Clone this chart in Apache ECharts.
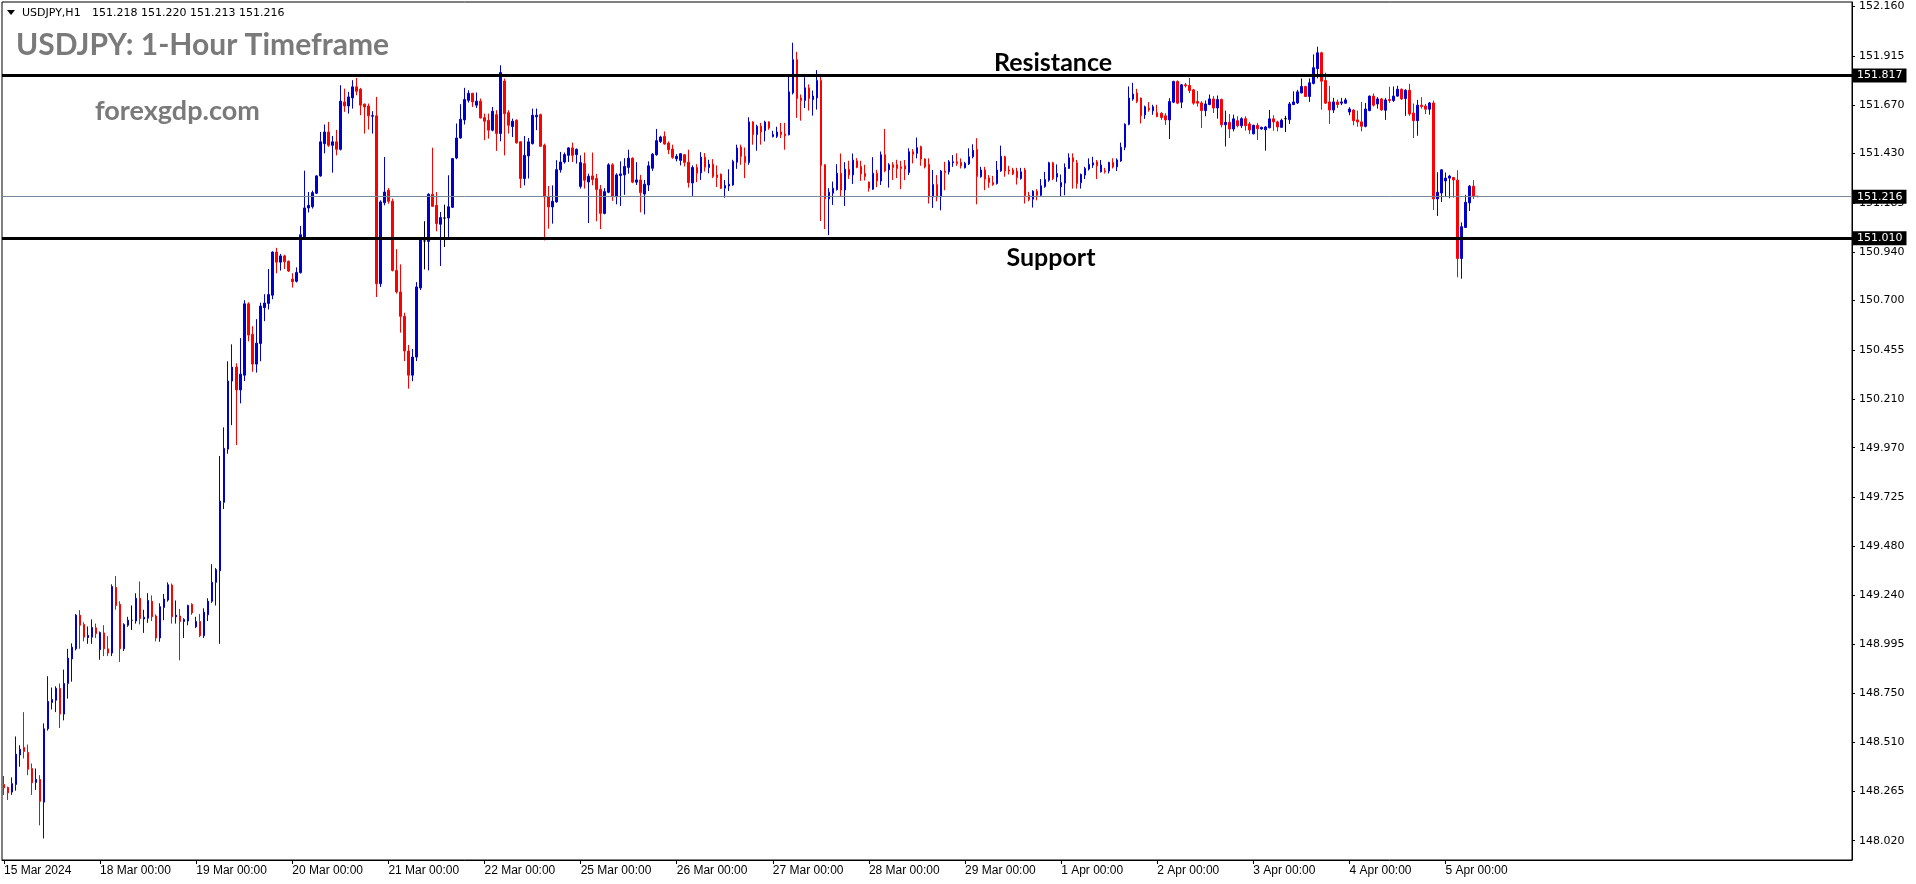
<!DOCTYPE html>
<html>
<head>
<meta charset="utf-8">
<script src="https://cdn.jsdelivr.net/npm/echarts@6/dist/echarts.min.js"></script>
<style>html,body{margin:0;padding:0;background:#fff;}#chart{width:1916px;height:884px;}</style>
</head>
<body>
<div id="chart"></div>
<script>
// ---- data ----
const tradingDays = ['15 Mar','18 Mar','19 Mar','20 Mar','21 Mar','22 Mar','25 Mar','26 Mar','27 Mar','28 Mar','29 Mar',
  '1 Apr','2 Apr','3 Apr','4 Apr','5 Apr','8 Apr','9 Apr','10 Apr','11 Apr'];
const xTickLabels = ['15 Mar 2024','18 Mar 00:00','19 Mar 00:00','20 Mar 00:00','21 Mar 00:00','22 Mar 00:00','25 Mar 00:00',
  '26 Mar 00:00','27 Mar 00:00','28 Mar 00:00','29 Mar 00:00','1 Apr 00:00','2 Apr 00:00','3 Apr 00:00','4 Apr 00:00','5 Apr 00:00'];
const yTickValues = [148.020,148.265,148.510,148.750,148.995,149.240,149.480,149.725,149.970,150.210,150.455,150.700,150.940,151.185,151.430,151.670,151.915,152.160];
const resistanceLevel = 151.817;
const supportLevel = 151.010;
const lastPrice = 151.216;
const headerSymbol = 'USDJPY,H1';
const headerQuote = '151.218 151.220 151.213 151.216';
// hourly candles: [open, close, low, high]
const candles = [
// 15 Mar
[148.299,148.282,148.247,148.341],[148.284,148.257,148.222,148.288],[148.261,148.303,148.247,148.334],[148.299,148.449,148.268,148.537],
[148.445,148.474,148.387,148.493],[148.483,148.462,148.428,148.658],[148.458,148.374,148.345,148.497],[148.378,148.307,148.247,148.403],
[148.309,148.324,148.272,148.378],[148.324,148.215,148.096,148.345],[148.211,148.575,148.031,148.602],[148.575,148.711,148.566,148.836],
[148.706,148.721,148.671,148.780],[148.717,148.776,148.658,148.786],[148.776,148.648,148.579,148.800],[148.648,148.800,148.617,148.869],
[148.800,148.926,148.725,148.972],[148.922,148.980,148.809,148.999],[148.972,149.139,148.964,149.145],[149.139,149.089,148.972,149.164],
[149.093,149.030,149.009,149.104],[149.028,149.039,148.997,149.083],[149.030,149.078,148.997,149.118],[149.076,149.047,149.026,149.097],
// 18 Mar
[148.968,149.053,148.918,149.058],[149.051,148.972,148.936,149.089],[148.972,148.951,148.936,149.035],[148.951,149.281,148.936,149.292],
[149.277,149.187,149.166,149.333],[149.193,148.972,148.907,149.208],[148.972,149.093,148.961,149.099],[149.089,149.114,149.081,149.131],
[149.114,149.114,149.066,149.187],[149.110,149.223,149.097,149.248],[149.223,149.122,149.093,149.306],[149.120,149.129,149.051,149.166],
[149.124,149.212,149.101,149.248],[149.208,149.131,149.110,149.237],[149.135,149.026,149.009,149.143],[149.026,149.181,149.007,149.198],
[149.177,149.219,149.114,149.244],[149.214,149.290,149.206,149.302],[149.288,149.131,149.097,149.296],[149.131,149.139,149.097,149.212],
[149.135,149.108,148.915,149.170],[149.108,149.118,149.026,149.124],[149.110,149.187,149.089,149.191],[149.193,149.150,149.141,149.198],
// 19 Mar
[149.081,149.108,149.075,149.131],[149.108,149.037,149.030,149.145],[149.037,149.154,149.026,149.173],[149.141,149.208,149.110,149.223],
[149.208,149.302,149.200,149.392],[149.302,149.365,149.187,149.373],[149.359,149.705,148.997,149.929],[149.699,149.967,149.666,150.071],
[149.963,150.301,149.940,150.399],[150.301,150.370,150.082,150.483],[150.370,150.257,149.983,150.389],[150.257,150.335,150.190,150.514],
[150.330,150.684,150.301,150.702],[150.684,150.529,150.498,150.692],[150.533,150.385,150.347,150.573],[150.385,150.489,150.343,150.608],
[150.487,150.673,150.399,150.690],[150.665,150.688,150.598,150.732],[150.686,150.730,150.656,150.857],[150.727,150.941,150.707,150.945],
[150.941,150.891,150.836,150.962],[150.891,150.922,150.849,150.932],[150.922,150.893,150.857,150.928],[150.895,150.847,150.842,150.899],
// 20 Mar
[150.807,150.794,150.765,150.836],[150.796,150.840,150.790,150.865],[150.839,151.027,150.834,151.070],[151.016,151.160,151.008,151.345],
[151.160,151.173,151.137,151.239],[151.166,151.236,151.157,151.246],[151.233,151.319,151.229,151.322],[151.319,151.488,151.315,151.537],
[151.479,151.537,151.431,151.574],[151.537,151.471,151.463,151.587],[151.471,151.488,151.335,151.517],[151.488,151.451,151.421,151.547],
[151.451,151.690,151.445,151.769],[151.686,151.666,151.637,151.752],[151.666,151.711,151.628,151.736],[151.706,151.761,151.653,151.794],
[151.761,151.739,151.719,151.805],[151.749,151.670,151.620,151.756],[151.675,151.661,151.529,151.678],[151.666,151.617,151.549,151.678],
[151.615,151.618,151.529,151.640],[151.617,150.784,150.718,151.711],[150.784,151.190,150.768,151.198],[151.186,151.239,151.173,151.413],
// 21 Mar
[151.248,151.193,151.181,151.259],[151.193,150.850,150.845,151.206],[150.850,150.743,150.735,150.955],[150.743,150.622,150.541,150.880],
[150.622,150.450,150.400,150.640],[150.450,150.330,150.263,150.480],[150.330,150.420,150.300,150.460],[150.420,150.768,150.400,150.792],
[150.763,151.004,150.753,151.011],[150.996,150.996,150.855,151.094],[150.994,151.228,150.850,151.233],[151.228,151.168,151.165,151.459],
[151.173,151.082,151.044,151.239],[151.079,151.112,150.872,151.140],[151.110,151.110,150.966,151.176],[151.110,151.166,151.016,151.322],
[151.163,151.405,151.160,151.408],[151.408,151.507,151.402,151.579],[151.507,151.600,151.504,151.675],[151.597,151.698,151.574,151.756],
[151.694,151.729,151.683,151.744],[151.729,151.686,151.661,151.731],[151.670,151.690,151.656,151.733],[151.690,151.607,151.603,151.703],
// 22 Mar
[151.608,151.590,151.496,151.628],[151.595,151.546,151.504,151.628],[151.546,151.640,151.540,151.661],[151.623,151.529,151.443,151.645],
[151.529,151.832,151.491,151.868],[151.790,151.628,151.421,151.802],[151.633,151.570,151.529,151.645],[151.564,151.590,151.512,151.603],
[151.595,151.483,151.479,151.600],[151.488,151.306,151.259,151.491],[151.306,151.421,151.272,151.517],[151.418,151.488,151.306,151.507],
[151.479,151.620,151.475,151.653],[151.612,151.620,151.546,151.653],[151.623,151.466,151.463,151.628],[151.471,151.215,150.999,151.479],
[151.215,151.165,151.057,151.269],[151.165,151.193,151.082,151.272],[151.190,151.350,151.186,151.397],[151.349,151.388,151.335,151.438],
[151.388,151.425,151.380,151.435],[151.421,151.458,151.388,151.461],[151.458,151.421,151.388,151.484],[151.425,151.451,151.380,151.455],
// 25 Mar
[151.267,151.385,151.256,151.421],[151.380,151.297,151.256,151.435],[151.289,151.317,151.085,151.330],[151.319,151.301,151.272,151.435],
[151.306,151.251,151.094,151.329],[151.253,151.133,151.055,151.274],[151.133,151.241,151.128,151.258],[151.238,151.374,151.233,151.382],
[151.374,151.216,151.195,151.382],[151.216,151.324,151.178,151.332],[151.321,151.329,151.170,151.391],[151.324,151.366,151.225,151.407],
[151.361,151.407,151.330,151.449],[151.407,151.288,151.283,151.411],[151.288,151.299,151.274,151.387],[151.299,151.236,151.138,151.324],
[151.229,151.278,151.128,151.299],[151.274,151.369,151.244,151.391],[151.357,151.427,151.344,151.432],[151.424,151.494,151.419,151.552],
[151.490,151.512,151.482,151.518],[151.515,151.477,151.474,151.540],[151.482,151.449,151.427,151.490],[151.452,151.411,151.404,151.474],
// 26 Mar
[151.404,151.416,151.391,151.427],[151.396,151.429,151.371,151.432],[151.424,151.386,151.366,151.427],[151.387,151.286,151.261,151.449],
[151.284,151.361,151.220,151.371],[151.361,151.332,151.288,151.377],[151.334,151.412,151.299,151.437],[151.412,151.362,151.341,151.432],
[151.361,151.377,151.332,151.399],[151.377,151.316,151.308,151.402],[151.324,151.311,151.264,151.371],[151.327,151.258,151.254,151.331],
[151.258,151.271,151.211,151.299],[151.269,151.278,151.244,151.352],[151.274,151.391,151.270,151.399],[151.387,151.457,151.354,151.474],
[151.462,151.416,151.374,151.474],[151.416,151.386,151.308,151.460],[151.386,151.587,151.374,151.610],[151.587,151.524,151.474,151.590],
[151.524,151.565,151.444,151.573],[151.565,151.537,151.474,151.582],[151.543,151.587,151.490,151.593],[151.587,151.557,151.548,151.590],
// 27 Mar
[151.514,151.524,151.510,151.543],[151.515,151.537,151.507,151.563],[151.537,151.524,151.507,151.582],[151.527,151.518,151.449,151.582],
[151.523,151.736,151.520,151.814],[151.731,151.896,151.723,151.980],[151.896,151.703,151.607,151.935],[151.706,151.693,151.593,151.723],
[151.693,151.756,151.656,151.809],[151.756,151.703,151.643,151.773],[151.698,151.715,151.618,151.743],[151.706,151.793,151.648,151.844],
[151.793,151.371,151.095,151.814],[151.374,151.205,151.055,151.377],[151.205,151.238,151.025,151.258],[151.233,151.258,151.175,151.291],
[151.251,151.332,151.246,151.377],[151.332,151.249,151.216,151.430],[151.249,151.352,151.170,151.387],[151.352,151.324,151.304,151.394],
[151.324,151.397,151.279,151.430],[151.394,151.361,151.357,151.407],[151.366,151.329,151.294,151.394],[151.332,151.316,151.296,151.374],
// 28 Mar
[151.288,151.258,151.241,151.291],[151.253,151.332,151.250,151.412],[151.332,151.294,151.263,151.349],[151.294,151.424,151.274,151.440],
[151.424,151.344,151.337,151.552],[151.349,151.374,151.261,151.382],[151.374,151.361,151.299,151.387],[151.375,151.356,151.308,151.399],
[151.364,151.356,151.253,151.394],[151.369,151.353,151.298,151.398],[151.336,151.439,151.323,151.456],[151.439,151.426,151.381,151.452],
[151.431,151.459,151.406,151.509],[151.464,151.403,151.369,151.469],[151.403,151.364,151.356,151.406],[151.376,151.215,151.182,151.406],
[151.215,151.276,151.160,151.348],[151.276,151.215,151.193,151.323],[151.215,151.343,151.148,151.348],[151.343,151.336,151.248,151.389],
[151.339,151.389,151.326,151.398],[151.384,151.389,151.364,151.422],[151.389,151.381,151.369,151.431],[151.386,151.369,151.356,151.406],
// 29 Mar
[151.359,151.381,151.356,151.389],[151.378,151.414,151.373,151.456],[151.414,151.446,151.406,151.476],[151.451,151.316,151.178,151.506],
[151.315,151.348,151.310,151.364],[151.348,151.303,151.248,151.364],[151.309,151.286,151.260,151.323],[151.286,151.276,151.270,151.319],
[151.281,151.348,151.276,151.393],[151.344,151.416,151.339,151.469],[151.414,151.343,151.315,151.419],[151.348,151.343,151.326,151.369],
[151.348,151.328,151.323,151.359],[151.343,151.310,151.276,151.359],[151.306,151.339,151.300,151.359],[151.348,151.220,151.182,151.359],
[151.223,151.202,151.193,151.240],[151.203,151.243,151.162,151.248],[151.243,151.223,151.198,151.253],[151.223,151.270,151.220,151.303],
[151.266,151.301,151.260,151.339],[151.298,151.384,151.290,151.389],[151.384,151.306,151.298,151.389],[151.313,151.331,151.290,151.376],
// 1 Apr
[151.265,151.286,151.215,151.326],[151.283,151.361,151.223,151.381],[151.356,151.409,151.353,151.431],[151.409,151.389,151.256,151.431],
[151.384,151.281,151.256,151.398],[151.285,151.326,151.256,151.331],[151.323,151.356,151.303,151.364],[151.353,151.376,151.346,151.406],
[151.373,151.384,151.359,151.414],[151.389,151.369,151.303,151.398],[151.339,151.373,151.336,151.398],[151.344,151.341,151.331,151.359],
[151.343,151.386,151.331,151.389],[151.386,151.364,151.356,151.406],[151.364,151.398,151.343,151.406],[151.393,151.461,151.389,151.484],
[151.461,151.575,151.447,151.580],[151.575,151.705,151.570,151.763],[151.700,151.725,151.692,151.781],[151.730,151.688,151.680,151.751],
[151.705,151.618,151.579,151.708],[151.622,151.662,151.602,151.668],[151.655,151.647,151.638,151.685],[151.642,151.662,151.622,151.672],
// 2 Apr
[151.633,151.613,151.610,151.672],[151.630,151.609,151.597,151.635],[151.617,151.597,151.572,151.630],[151.597,151.688,151.502,151.705],
[151.685,151.788,151.680,151.791],[151.788,151.680,151.675,151.793],[151.685,151.771,151.655,151.775],[151.771,151.766,151.758,151.780],
[151.768,151.743,151.730,151.805],[151.746,151.680,151.672,151.751],[151.688,151.680,151.663,151.740],[151.681,151.643,151.557,151.690],
[151.643,151.676,151.615,151.693],[151.673,151.701,151.670,151.723],[151.701,151.656,151.631,151.715],[151.656,151.698,151.603,151.718],
[151.698,151.573,151.560,151.703],[151.573,151.585,151.465,151.643],[151.585,151.552,151.507,151.626],[151.552,151.602,151.540,151.623],
[151.593,151.568,151.560,151.615],[151.568,151.603,151.557,151.610],[151.603,151.568,151.543,151.615],[151.577,151.547,151.527,151.587],
// 3 Apr
[151.528,151.570,151.525,151.573],[151.570,151.553,151.497,151.582],[151.552,151.560,151.548,151.563],[151.548,151.562,151.444,151.565],
[151.558,151.602,151.555,151.646],[151.602,151.587,151.543,151.620],[151.587,151.562,151.540,151.593],[151.560,151.595,151.557,151.603],
[151.603,151.603,151.537,151.617],[151.598,151.676,151.577,151.686],[151.673,151.686,151.670,151.739],[151.681,151.736,151.676,151.746],
[151.731,151.763,151.728,151.803],[151.763,151.713,151.711,151.766],[151.713,151.781,151.686,151.803],[151.778,151.856,151.773,151.922],
[151.851,151.930,151.803,151.960],[151.930,151.789,151.648,151.935],[151.793,151.680,151.676,151.831],[151.686,151.646,151.577,151.766],
[151.646,151.686,151.631,151.706],[151.686,151.673,151.656,151.698],[151.680,151.686,151.670,151.706],[151.680,151.696,151.676,151.706],
// 4 Apr
[151.636,151.651,151.620,151.660],[151.646,151.593,151.570,151.650],[151.597,151.587,151.563,151.643],[151.587,151.565,151.540,151.686],
[151.565,151.651,151.560,151.681],[151.643,151.715,151.640,151.718],[151.715,151.670,151.663,151.728],[151.676,151.701,151.653,151.710],
[151.701,151.646,151.643,151.706],[151.645,151.696,151.597,151.706],[151.698,151.693,151.681,151.761],[151.693,151.715,151.686,151.763],
[151.715,151.749,151.711,151.766],[151.749,151.701,151.696,151.753],[151.703,151.744,151.617,151.749],[151.744,151.626,151.617,151.776],
[151.631,151.593,151.507,151.678],[151.593,151.670,151.518,151.696],[151.670,151.663,151.653,151.710],[151.666,151.650,151.626,151.676],
[151.650,151.681,151.623,151.686],[151.681,151.205,151.150,151.693],[151.205,151.238,151.120,151.337],[151.234,151.349,151.190,151.352],
// 5 Apr
[151.294,151.308,151.215,151.336],[151.308,151.318,151.208,151.324],[151.311,151.299,151.211,151.314],[151.298,150.909,150.816,151.347],
[150.909,151.067,150.809,151.088],[151.063,151.188,151.062,151.225],[151.185,151.268,151.145,151.274],[151.268,151.216,151.205,151.298],
[151.218,151.216,151.213,151.220]
];

// ---- build ----
const SLOTS = 462;
const categories = [];
tradingDays.forEach(d => { for (let h = 0; h < 24; h++) categories.push(d + ' ' + String(h).padStart(2, '0') + ':00'); });
categories.length = SLOTS;

const UP = '#0000cd', DOWN = '#ff0000';
const seriesData = candles.map(c => c[0] === c[1]
  ? { value: c, itemStyle: { color: '#000', color0: '#000', borderColor: '#000', borderColor0: '#000' } }
  : c);

const isDayTick = (idx) => idx % 24 === 0 && idx / 24 < xTickLabels.length;

const priceBox = (v) => ({ show: true, position: 'end', distance: 1, formatter: v.toFixed(3),
  backgroundColor: '#000', color: '#fff', fontFamily: '"DejaVu Sans", sans-serif', fontSize: 11, padding: [2, 4, 1, 4] });

const chart = echarts.init(document.getElementById('chart'), null, { renderer: 'canvas' });
const titleFont = 'Lato, "Open Sans", sans-serif';
chart.setOption({
  animation: false,
  backgroundColor: '#ffffff',
  grid: { left: 2, top: 2, width: 1850, height: 858, show: true, borderColor: '#000', borderWidth: 1,
          backgroundColor: 'transparent', containLabel: false, outerBoundsMode: 'none' },
  xAxis: {
    type: 'category', data: categories, boundaryGap: true,
    axisLine: { show: true, lineStyle: { color: '#000', width: 1 } },
    axisTick: { show: true, alignWithLabel: true, length: 4, interval: (i) => isDayTick(i), lineStyle: { color: '#000' } },
    axisLabel: { show: true, interval: (i) => isDayTick(i), hideOverlap: false, align: 'left', margin: 5,
      formatter: (v, i) => isDayTick(i) ? xTickLabels[i / 24] : '',
      fontFamily: '"Liberation Sans", Arial, sans-serif', fontSize: 12, color: '#000' },
    splitLine: { show: false }
  },
  yAxis: {
    type: 'value', position: 'right', min: 147.924, max: 152.182, scale: true,
    axisLine: { show: true, onZero: false, lineStyle: { color: '#000', width: 1 } },
    axisTick: { show: true, length: 3, customValues: yTickValues, lineStyle: { color: '#000' } },
    axisLabel: { show: true, customValues: yTickValues, margin: 7, formatter: (v) => Number(v).toFixed(3),
      fontFamily: '"DejaVu Sans", sans-serif', fontSize: 11, color: '#000' },
    splitLine: { show: false }
  },
  series: [{
    type: 'candlestick', data: seriesData, barWidth: 2, large: false, clip: true,
    itemStyle: { color: UP, color0: DOWN, borderColor: UP, borderColor0: DOWN, borderWidth: 1 },
    markLine: {
      silent: true, symbol: ['none', 'none'], animation: false, precision: 3,
      data: [
        { yAxis: lastPrice, lineStyle: { color: '#778899', width: 1, type: 'solid' }, label: priceBox(lastPrice) },
        { yAxis: resistanceLevel, lineStyle: { color: '#000', width: 3, type: 'solid' }, label: priceBox(resistanceLevel) },
        { yAxis: supportLevel, lineStyle: { color: '#000', width: 3, type: 'solid' }, label: priceBox(supportLevel) }
      ]
    }
  }],
  graphic: [
    { type: 'polygon', shape: { points: [[7, 10], [15, 10], [11, 15]] }, style: { fill: '#000' } },
    { type: 'text', x: 22, y: 13, style: { text: headerSymbol, font: '11px "DejaVu Sans", sans-serif', fill: '#000', textVerticalAlign: 'middle' } },
    { type: 'text', x: 92, y: 13, style: { text: headerQuote, font: '11px "DejaVu Sans", sans-serif', fill: '#000', textVerticalAlign: 'middle' } },
    { type: 'text', x: 16, y: 45, style: { text: 'USDJPY: 1-Hour Timeframe', font: 'bold 30px ' + titleFont, fill: '#7a7a7a', textVerticalAlign: 'middle' } },
    { type: 'text', x: 95, y: 111, style: { text: 'forexgdp.com', font: 'bold 27px ' + titleFont, fill: '#7a7a7a', textVerticalAlign: 'middle' } },
    { type: 'text', x: 1053, y: 63, style: { text: 'Resistance', font: 'bold 25px ' + titleFont, fill: '#000', textAlign: 'center', textVerticalAlign: 'middle' } },
    { type: 'text', x: 1051, y: 258, style: { text: 'Support', font: 'bold 25px ' + titleFont, fill: '#000', textAlign: 'center', textVerticalAlign: 'middle' } }
  ]
});
</script>
</body>
</html>
